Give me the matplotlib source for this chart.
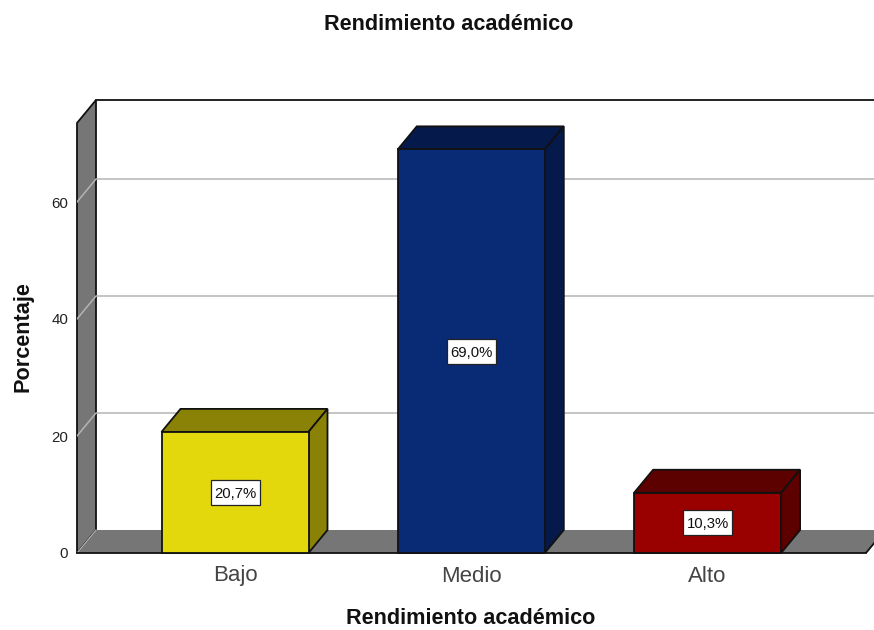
import matplotlib
matplotlib.use("Agg")
import matplotlib.pyplot as plt
from matplotlib.patches import Polygon, Rectangle

plt.rcParams['font.family'] = ['Liberation Sans', 'DejaVu Sans']

categories = ["Bajo", "Medio", "Alto"]
values = [20.7, 69.0, 10.3]
labels = ["20,7%", "69,0%", "10,3%"]
yticks = [0, 20, 40, 60]
face = ["#e3d80c", "#092a74", "#990000"]
dark = ["#8a8207", "#05194a", "#5c0000"]
gridc = "#b4b4b4"
wallc = "#767676"
edge = "#111111"

W, H = 874, 630
fig = plt.figure(figsize=(W / 100, H / 100), dpi=100)
L, R, B, T = 77, 874, 553, 100
ax = fig.add_axes([L / W, 1 - B / H, (R - L) / W, (B - T) / H])
pxx = 236.3          # pixels per category step
pxy = 5.85           # pixels per percent
x0 = 235             # pixel centre of first category
ax.set_xlim((L - x0) / pxx, (R - x0) / pxx)
ax.set_ylim(0, (B - T) / pxy)
ax.patch.set_alpha(0)
for s in ax.spines.values():
    s.set_visible(False)

dx, dy = 19 / pxx, 23 / pxy
bw = 147 / pxx
xl = ax.get_xlim()[0]
xr = (866 - x0) / pxx
ytop = ax.get_ylim()[1] - dy
lw = 1.3

# walls and floor
ax.add_patch(Polygon([(xl, 0), (xl + dx, dy), (xl + dx, ytop + dy), (xl, ytop)],
                     fc=wallc, ec=edge, lw=lw, zorder=2, clip_on=False))
ax.add_patch(Polygon([(xl, 0), (xr, 0), (xr + dx, dy), (xl + dx, dy)],
                     fc=wallc, ec="none", zorder=2))
ax.plot([xl, xr], [0, 0], color=edge, lw=lw, zorder=3, clip_on=False)
ax.plot([xr, xr + dx], [0, dy], color=edge, lw=lw, zorder=3)
ax.plot([xl + dx, xr + 2 * dx], [ytop + dy, ytop + dy], color=edge, lw=lw, zorder=3, clip_on=False)

# gridlines on back wall plus diagonals on left wall
for t in yticks[1:]:
    ax.plot([xl, xl + dx, xr + 2 * dx], [t, t + dy, t + dy], color=gridc, lw=1.1, zorder=2.5)
ax.plot([xl, xl + dx], [0, dy], color=gridc, lw=0.8, zorder=2.5)

# bars
box_w, box_h = 49 / pxx, 25 / pxy
for i, (v, fc, dc, lab) in enumerate(zip(values, face, dark, labels)):
    a, b = i - bw / 2, i + bw / 2
    ax.bar(i, v, width=bw, color=fc, edgecolor=edge, linewidth=lw, zorder=5, clip_on=False)
    ax.add_patch(Polygon([(a, v), (b, v), (b + dx, v + dy), (a + dx, v + dy)],
                         fc=dc, ec=edge, lw=lw, zorder=4))
    ax.add_patch(Polygon([(b, 0), (b + dx, dy), (b + dx, v + dy), (b, v)],
                         fc=dc, ec=edge, lw=lw, zorder=4))
    ax.add_patch(Rectangle((i - box_w / 2, v / 2 - box_h / 2), box_w, box_h,
                           fc="white", ec="#222222", lw=0.9, zorder=6))
    ax.text(i, v / 2, lab, ha="center", va="center_baseline", fontsize=10.7, color="#111111", zorder=7)

ax.set_xticks(range(len(categories)))
ax.set_xticklabels(categories, fontsize=16, color="#444444")
ax.set_yticks(yticks)
ax.set_yticklabels([str(t) for t in yticks], fontsize=10.8, color="#222222")
ax.tick_params(axis="x", length=0, pad=9)
ax.tick_params(axis="y", length=0, pad=6.3)

fig.text(448.5 / W, 1 - 24 / H, "Rendimiento académico", ha="center", va="center",
         fontsize=15.6, fontweight="bold", color="#111111")
fig.text(470.5 / W, 1 - 619 / H, "Rendimiento académico", ha="center", va="center",
         fontsize=15.6, fontweight="bold", color="#111111")
fig.text(23 / W, 1 - 337 / H, "Porcentaje", ha="center", va="center", rotation=90,
         fontsize=15.6, fontweight="bold", color="#111111")

fig.savefig("out.png", dpi=100)
